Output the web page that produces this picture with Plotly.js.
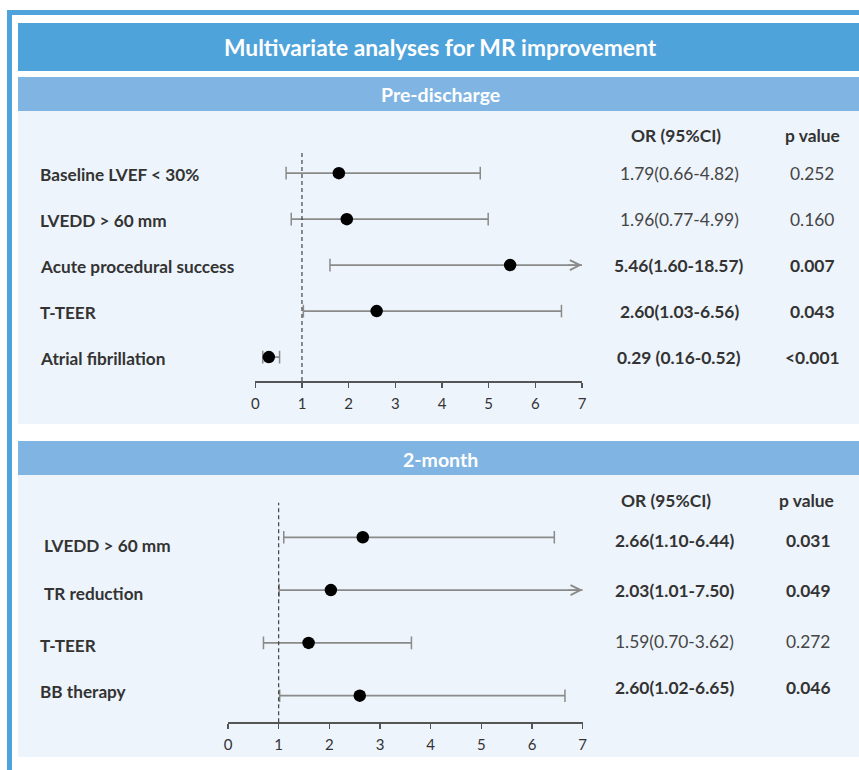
<!DOCTYPE html>
<html>
<head>
<meta charset="utf-8">
<script src="https://cdn.plot.ly/plotly-3.0.1.min.js"></script>
<style>
  html, body { margin: 0; padding: 0; background: #ffffff; }
  #chart { width: 859px; height: 770px; }
</style>
</head>
<body>
<div id="chart"></div>
<script>
// ---------------- DATA ----------------
const chartTitle = 'Multivariate analyses for MR improvement';
const preTitle = 'Pre-discharge';
const monthTitle = '2-month';
const colHeaderOR = 'OR (95%CI)';
const colHeaderP = 'p value';

const preFactors = ['Baseline LVEF < 30%', 'LVEDD > 60 mm', 'Acute procedural success', 'T-TEER', 'Atrial fibrillation'];
const preOR = [1.79, 1.96, 5.46, 2.60, 0.29];
const preLo = [0.66, 0.77, 1.60, 1.03, 0.16];
const preHi = [4.82, 4.99, 18.57, 6.56, 0.52];
const preORText = ['1.79(0.66-4.82)', '1.96(0.77-4.99)', '5.46(1.60-18.57)', '2.60(1.03-6.56)', '0.29 (0.16-0.52)'];
const preP = ['0.252', '0.160', '0.007', '0.043', '<0.001'];

const monthFactors = ['LVEDD > 60 mm', 'TR reduction', 'T-TEER', 'BB therapy'];
const monthOR = [2.66, 2.03, 1.59, 2.60];
const monthLo = [1.10, 1.01, 0.70, 1.02];
const monthHi = [6.44, 7.50, 3.62, 6.65];
const monthORText = ['2.66(1.10-6.44)', '2.03(1.01-7.50)', '1.59(0.70-3.62)', '2.60(1.02-6.65)'];
const monthP = ['0.031', '0.049', '0.272', '0.046'];

const axisTicks = [0, 1, 2, 3, 4, 5, 6, 7];
const axisMax = 7;
const refValue = 1;

// ---------------- STYLE / LAYOUT HELPERS ----------------
const W = 859, H = 770;
const px = v => v / W;
const py = v => 1 - v / H;
const FONT = 'Lato, "Open Sans", sans-serif';
const ciColor = '#8a8a8a';
const darkText = '#333333';
const regText = '#454545';
const blueDark = '#4FA3DB';
const blueLight = '#80B5E3';
const panelBg = '#EEF4FB';
const labelSize = 17.2;
const valueSize = 17.4;
const headerSize = 17.4;

function isSig(p) { return parseFloat(p.replace('<', '')) < 0.05; }

function buildPanel(factors, orv, lo, hi, xa, ya) {
  const traces = [];
  const lx = [], ly = [];
  const cx = [], cy = [];
  const ann = [];
  factors.forEach((f, i) => {
    const y = -i;
    const hiC = Math.min(hi[i], axisMax);
    lx.push(lo[i], hiC, null); ly.push(y, y, null);
    cx.push(lo[i]); cy.push(y);
    if (hi[i] <= axisMax) { cx.push(hi[i]); cy.push(y); }
    else {
      ann.push({ x: axisMax, y: y, xref: xa, yref: ya, ax: -16, ay: 0, text: '',
        showarrow: true, arrowhead: 5, arrowsize: 1.4, arrowwidth: 1.4, arrowcolor: ciColor, standoff: 0 });
    }
  });
  traces.push({ type: 'scatter', mode: 'lines', x: lx, y: ly, xaxis: xa, yaxis: ya,
    line: { color: ciColor, width: 1.8 }, hoverinfo: 'skip', showlegend: false, connectgaps: false });
  traces.push({ type: 'scatter', mode: 'markers', x: cx, y: cy, xaxis: xa, yaxis: ya,
    marker: { symbol: 'line-ns-open', size: 9, color: ciColor, line: { color: ciColor, width: 1.5 } }, hoverinfo: 'skip', showlegend: false });
  traces.push({ type: 'scatter', mode: 'markers', x: orv, y: factors.map((f, i) => -i), xaxis: xa, yaxis: ya,
    marker: { symbol: 'circle', size: 12.5, color: '#000000' }, text: factors, hoverinfo: 'text+x', showlegend: false, cliponaxis: false });
  return { traces, ann };
}

const prePanel = buildPanel(preFactors, preOR, preLo, preHi, 'x', 'y');
const monthPanel = buildPanel(monthFactors, monthOR, monthLo, monthHi, 'x2', 'y2');

const annotations = [...prePanel.ann, ...monthPanel.ann];

// banner texts
annotations.push({ xref: 'paper', yref: 'paper', x: px(440), y: py(47), text: '<b>' + chartTitle + '</b>', showarrow: false,
  font: { family: FONT, size: 22.8, color: '#ffffff' }, xanchor: 'center', yanchor: 'middle' });
annotations.push({ xref: 'paper', yref: 'paper', x: px(440), y: py(95), text: '<b>' + preTitle + '</b>', showarrow: false,
  font: { family: FONT, size: 19.5, color: '#ffffff' }, xanchor: 'center', yanchor: 'middle' });
annotations.push({ xref: 'paper', yref: 'paper', x: px(440), y: py(459), text: '<b>' + monthTitle + '</b>', showarrow: false,
  font: { family: FONT, size: 19.5, color: '#ffffff' }, xanchor: 'center', yanchor: 'middle' });

// column headers
[[135, 676, 812], [500, 666, 806]].forEach(([yy, xo, xp]) => {
  annotations.push({ xref: 'paper', yref: 'paper', x: px(xo), y: py(yy), text: '<b>' + colHeaderOR + '</b>', showarrow: false,
    font: { family: FONT, size: headerSize, color: darkText }, xanchor: 'center', yanchor: 'middle' });
  annotations.push({ xref: 'paper', yref: 'paper', x: px(xp), y: py(yy), text: '<b>' + colHeaderP + '</b>', showarrow: false,
    font: { family: FONT, size: headerSize, color: darkText }, xanchor: 'center', yanchor: 'middle' });
});

// row labels and values
const topLabelX = [38, 38, 38, 38, 38];
preFactors.forEach((f, i) => {
  annotations.push({ xref: 'paper', yref: 'y', x: px(topLabelX[i]), y: -i, text: '<b>' + f + '</b>', showarrow: false,
    font: { family: FONT, size: labelSize, color: darkText }, xanchor: 'left', yanchor: 'middle', yshift: -1 });
  const sig = isSig(preP[i]);
  const wrap = s => sig ? '<b>' + s + '</b>' : s;
  annotations.push({ xref: 'paper', yref: 'y', x: px(679), y: -i, text: wrap(preORText[i]), showarrow: false,
    font: { family: FONT, size: valueSize, color: sig ? darkText : regText }, xanchor: 'center', yanchor: 'middle' });
  annotations.push({ xref: 'paper', yref: 'y', x: px(812), y: -i, text: wrap(preP[i]), showarrow: false,
    font: { family: FONT, size: valueSize, color: sig ? darkText : regText }, xanchor: 'center', yanchor: 'middle' });
});
const botLabelX = [42, 42, 38, 38];
const botLabelShift = [-8, -3, -3, 4];
const botValShift = [-3, 0, 1, 8];
monthFactors.forEach((f, i) => {
  annotations.push({ xref: 'paper', yref: 'y2', x: px(botLabelX[i]), y: -i, text: '<b>' + f + '</b>', showarrow: false,
    font: { family: FONT, size: labelSize, color: darkText }, xanchor: 'left', yanchor: 'middle', yshift: botLabelShift[i] });
  const sig = isSig(monthP[i]);
  const wrap = s => sig ? '<b>' + s + '</b>' : s;
  annotations.push({ xref: 'paper', yref: 'y2', x: px(674), y: -i, text: wrap(monthORText[i]), showarrow: false,
    font: { family: FONT, size: valueSize, color: sig ? darkText : regText }, xanchor: 'center', yanchor: 'middle', yshift: botValShift[i] });
  annotations.push({ xref: 'paper', yref: 'y2', x: px(808), y: -i, text: wrap(monthP[i]), showarrow: false,
    font: { family: FONT, size: valueSize, color: sig ? darkText : regText }, xanchor: 'center', yanchor: 'middle', yshift: botValShift[i] });
});

// background shapes
function rect(x0, y0, x1, y1, color) {
  return { type: 'rect', xref: 'paper', yref: 'paper', x0: px(x0), x1: px(x1), y0: py(y1), y1: py(y0),
    fillcolor: color, line: { width: 0 }, layer: 'below' };
}
const shapes = [
  rect(7, 10, 859, 15, blueDark),
  rect(7, 10, 12, 770, blueDark),
  rect(18, 23, 859, 71, blueDark),
  rect(18, 77, 859, 111, blueLight),
  rect(18, 111, 859, 424, panelBg),
  rect(18, 441, 859, 475, blueLight),
  rect(18, 475, 859, 757, panelBg),
  { type: 'line', xref: 'x', yref: 'y domain', x0: refValue, x1: refValue, y0: 0, y1: 1,
    line: { color: '#333333', width: 1.1, dash: '4px,3px' } },
  { type: 'line', xref: 'x2', yref: 'y2 domain', x0: refValue, x1: refValue, y0: 0, y1: 1,
    line: { color: '#333333', width: 1.1, dash: '4px,3px' } }
];

const xAxisBase = {
  range: [0, axisMax], tickvals: axisTicks, ticks: 'outside', ticklen: 5, tickwidth: 1.2, tickcolor: '#555555',
  showgrid: false, zeroline: false, showline: true, linecolor: '#555555', linewidth: 1.5,
  tickfont: { family: FONT, size: 15, color: darkText }, fixedrange: true, ticklabelstandoff: 3
};

const layout = {
  width: W, height: H,
  margin: { l: 0, r: 0, t: 0, b: 0 },
  paper_bgcolor: '#ffffff', plot_bgcolor: 'rgba(0,0,0,0)',
  showlegend: false,
  xaxis: Object.assign({}, xAxisBase, { domain: [px(255.3), px(582)], anchor: 'y' }),
  yaxis: { domain: [py(381), py(152)], range: [-4.52, 0.46], visible: false, fixedrange: true, anchor: 'x' },
  xaxis2: Object.assign({}, xAxisBase, { domain: [px(228), px(582.7)], anchor: 'y2' }),
  yaxis2: { domain: [py(722.3), py(502.7)], range: [-3.504, 0.655], visible: false, fixedrange: true, anchor: 'x2' },
  shapes: shapes,
  annotations: annotations
};

Plotly.newPlot('chart', [...prePanel.traces, ...monthPanel.traces], layout, { displayModeBar: false, staticPlot: true });
</script>
</body>
</html>
